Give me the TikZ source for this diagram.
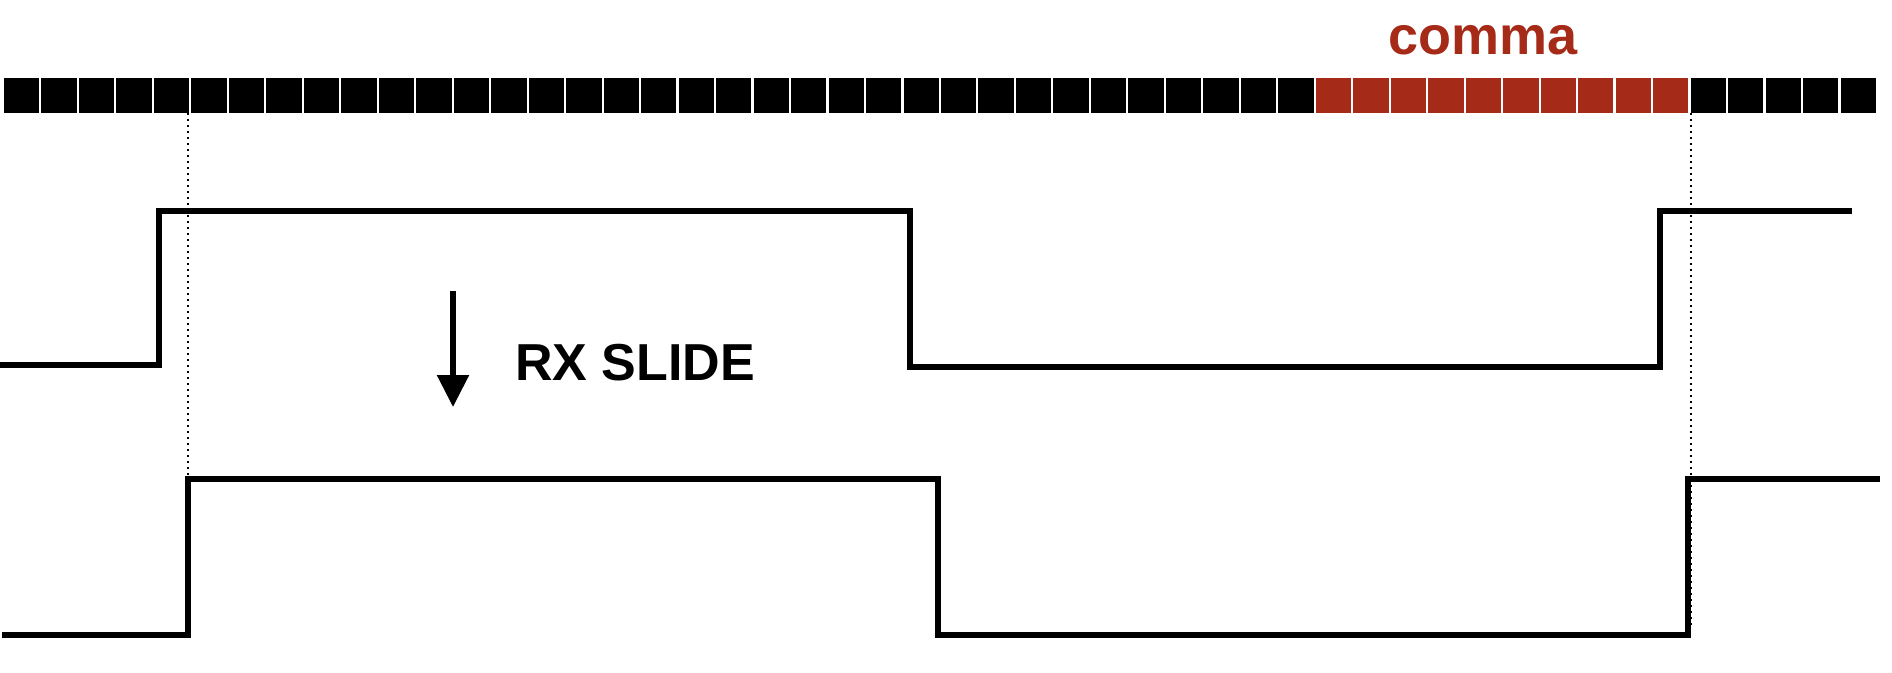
\documentclass[tikz,border=0pt]{standalone}
\usepackage{fontspec}
\setmainfont{Liberation Sans}
\usetikzlibrary{arrows.meta}
\definecolor{commared}{RGB}{166,42,24}
\tikzset{
  wave/.style={line width=6pt, line join=miter, line cap=butt},
  guide/.style={line width=2pt, dash pattern=on 2pt off 4pt},
  bitbox/.style={fill=black},
  commabox/.style={fill=commared},
  biglabel/.style={font=\bfseries\fontsize{52}{58}\selectfont, inner sep=0pt},
  commalabel/.style={font=\bfseries\fontsize{54}{60}\selectfont, inner sep=0pt},
  slidearrow/.style={line width=5.5pt, -{Triangle[width=31pt,length=32pt]}}
}
\begin{document}
\begin{tikzpicture}[x=1pt,y=-1pt]
\useasboundingbox (0,0) rectangle (1892,672);
% bit stream
\foreach \i in {0,...,49}{
  \pgfmathsetmacro{\xa}{4+37.48*\i}
  \pgfmathsetmacro{\xb}{\xa+35.3}
  \ifnum\i>34 \ifnum\i<45
    \fill[commabox] (\xa,78) rectangle (\xb,113);
  \else
    \fill[bitbox] (\xa,78) rectangle (\xb,113);
  \fi\else
    \fill[bitbox] (\xa,78) rectangle (\xb,113);
  \fi
}
\node[commalabel, text=commared, anchor=base] (comma) at (1483,54) {comma};
% guide lines
\coordinate (gl1) at (187.5,113);
\coordinate (gl2) at (187.5,630);
\coordinate (gr1) at (1691,113);
\coordinate (gr2) at (1691,628);
\draw[guide] (gl1) -- (gl2);
\draw[guide] (gr1) -- (gr2);
% waveform 1
\draw[wave] (0,365) -- (159,365) -- (159,211) -- (910,211) -- (910,367) -- (1660,367) -- (1660,211) -- (1852,211);
% waveform 2
\draw[wave] (2,634.5) -- (187.5,634.5) -- (187.5,479) -- (938,479) -- (938,635) -- (1688,635) -- (1688,479) -- (1880,479);
% arrow and label
\coordinate (atop) at (453,291);
\coordinate (atip) at (453,407);
\draw[slidearrow] (atop) -- (atip);
\node[biglabel, anchor=base west] (slide) at (515,380) {RX SLIDE};
\end{tikzpicture}
\end{document}
